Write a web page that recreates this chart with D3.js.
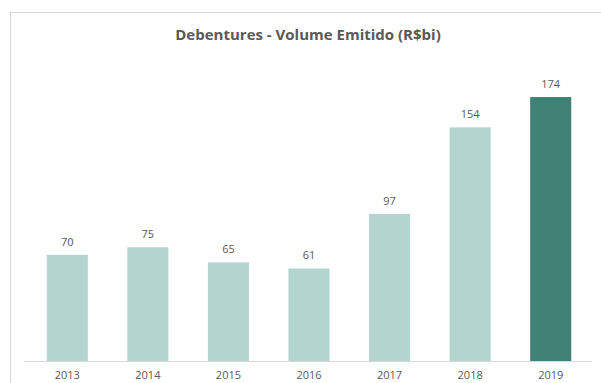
<!DOCTYPE html>
<html>
<head>
<meta charset="utf-8">
<script src="https://d3js.org/d3.v7.min.js"></script>
<style>
  body { margin: 0; background: #fff; }
  svg { display: block; font-family: "Open Sans", "Liberation Sans", sans-serif; }
</style>
</head>
<body>
<svg id="chart" width="601" height="383"></svg>
<script>
// Data
const years = ["2013", "2014", "2015", "2016", "2017", "2018", "2019"];
const volumes = [70, 75, 65, 61, 97, 154, 174];
const highlightYear = "2019";

const svg = d3.select("#chart");
const width = 601, height = 383;

// chart frame
svg.append("rect")
    .attr("x", 10.5)
    .attr("y", 12.5)
    .attr("width", 620)
    .attr("height", 400)
    .attr("fill", "#fff")
    .attr("stroke", "#d9d9d9");

// title
svg.append("text")
    .attr("x", 308)
    .attr("y", 40)
    .attr("text-anchor", "middle")
    .attr("font-size", "15px")
    .attr("font-weight", "bold")
    .attr("fill", "#595959")
    .text("Debentures - Volume Emitido (R$bi)");

const x = d3.scaleBand()
    .domain(years)
    .range([27, 591])
    .paddingInner(0.49)
    .paddingOuter(0.245);

const y = d3.scaleLinear()
    .domain([0, 200])
    .range([361, 57.6]);

// bars
svg.append("g")
    .selectAll("rect")
    .data(years)
    .join("rect")
    .attr("x", (d) => x(d))
    .attr("y", (d, i) => y(volumes[i]))
    .attr("width", x.bandwidth())
    .attr("height", (d, i) => y(0) - y(volumes[i]))
    .attr("fill", d => d === highlightYear ? "#3f8275" : "#b4d5cf");

// value labels
svg.append("g")
    .selectAll("text")
    .data(years)
    .join("text")
    .attr("x", d => x(d) + x.bandwidth() / 2)
    .attr("y", (d, i) => y(volumes[i]) - 9)
    .attr("text-anchor", "middle")
    .attr("font-size", "11px")
    .attr("fill", "#595959")
    .text((d, i) => volumes[i]);

// x axis
const xAxis = svg.append("g")
    .attr("transform", `translate(0,${y(0)})`)
    .call(d3.axisBottom(x).tickSize(0).tickPadding(10));
xAxis.select(".domain")
    .attr("stroke", "#d9d9d9")
    .attr("d", "M24,0.5H592");
xAxis.selectAll("text")
    .attr("font-family", "\"Open Sans\", \"Liberation Sans\", sans-serif")
    .attr("font-size", "11px")
    .attr("fill", "#595959");
</script>
</body>
</html>
